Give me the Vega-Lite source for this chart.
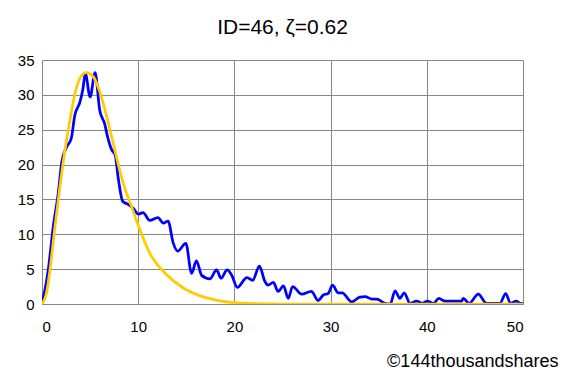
{
  "$schema": "https://vega.github.io/schema/vega-lite/v6.json",
  "width": 481,
  "height": 244,
  "autosize": "none",
  "padding": {"left": 42, "top": 60, "right": 45, "bottom": 75},
  "background": "white",
  "config": {
    "view": {"stroke": null},
    "font": "Liberation Sans"
  },
  "title": {
    "text": "ID=46, ζ=0.62",
    "fontSize": 21,
    "fontWeight": "normal",
    "color": "#000000",
    "anchor": "middle",
    "frame": "group",
    "offset": 15
  },
  "datasets": {
    "observed": [
      {"x": 0, "y": 0.3}, {"x": 0.3, "y": 2.0}, {"x": 0.65, "y": 4.9}, {"x": 1.17, "y": 11.1},
      {"x": 1.69, "y": 15.9}, {"x": 2.05, "y": 20.3}, {"x": 2.55, "y": 22.5}, {"x": 3.05, "y": 23.8},
      {"x": 3.4, "y": 27.0}, {"x": 3.95, "y": 29.0}, {"x": 4.25, "y": 30.8}, {"x": 4.5, "y": 33.1},
      {"x": 5.0, "y": 29.7}, {"x": 5.52, "y": 33.2}, {"x": 6.0, "y": 27.8}, {"x": 6.5, "y": 25.9},
      {"x": 6.85, "y": 23.8}, {"x": 7.25, "y": 22.1}, {"x": 7.6, "y": 21.4}, {"x": 7.95, "y": 17.8},
      {"x": 8.4, "y": 14.7}, {"x": 8.95, "y": 14.3}, {"x": 9.5, "y": 13.7}, {"x": 10.0, "y": 12.9},
      {"x": 10.5, "y": 13.1}, {"x": 11.2, "y": 12.0}, {"x": 12.05, "y": 12.4}, {"x": 12.6, "y": 11.6},
      {"x": 13.1, "y": 11.9}, {"x": 13.65, "y": 8.7}, {"x": 14.1, "y": 7.6}, {"x": 14.95, "y": 8.7},
      {"x": 15.55, "y": 4.4}, {"x": 16.05, "y": 6.2}, {"x": 16.6, "y": 4.1}, {"x": 17.45, "y": 3.6},
      {"x": 18.15, "y": 4.9}, {"x": 18.6, "y": 3.7}, {"x": 19.25, "y": 4.9}, {"x": 19.7, "y": 4.2},
      {"x": 20.3, "y": 2.4}, {"x": 21.3, "y": 3.8}, {"x": 21.9, "y": 3.4}, {"x": 22.6, "y": 5.45},
      {"x": 23.15, "y": 3.3}, {"x": 23.5, "y": 2.7}, {"x": 24.05, "y": 3.1}, {"x": 24.55, "y": 1.8},
      {"x": 25.1, "y": 2.6}, {"x": 25.6, "y": 0.8}, {"x": 26.05, "y": 2.5}, {"x": 27.0, "y": 1.4},
      {"x": 28.0, "y": 1.8}, {"x": 28.7, "y": 0.5}, {"x": 29.25, "y": 1.3}, {"x": 29.75, "y": 1.5},
      {"x": 30.2, "y": 2.7}, {"x": 30.8, "y": 1.6}, {"x": 31.2, "y": 1.6}, {"x": 32.2, "y": 0.3},
      {"x": 33.05, "y": 1.0}, {"x": 33.6, "y": 1.05}, {"x": 34.3, "y": 0.7}, {"x": 34.8, "y": 0.7},
      {"x": 35.65, "y": 0.1}, {"x": 36.2, "y": 0.0}, {"x": 36.7, "y": 1.9}, {"x": 37.2, "y": 0.8},
      {"x": 37.65, "y": 1.6}, {"x": 38.25, "y": 0.1}, {"x": 38.95, "y": 0.4}, {"x": 39.55, "y": 0.1},
      {"x": 40.05, "y": 0.4}, {"x": 40.7, "y": 0.1}, {"x": 41.25, "y": 0.8}, {"x": 41.9, "y": 0.4},
      {"x": 43.6, "y": 0.4}, {"x": 43.8, "y": 0.8}, {"x": 44.4, "y": 0.1}, {"x": 45.35, "y": 1.4},
      {"x": 46.2, "y": 0.1}, {"x": 47.6, "y": 0.1}, {"x": 48.2, "y": 1.5}, {"x": 48.7, "y": 0.1},
      {"x": 49.3, "y": 0.4}, {"x": 49.75, "y": 0.1}, {"x": 50, "y": 0.1}
    ],
    "fitted": [
      {"x": 0, "y": 0}, {"x": 0.14, "y": 0.3}, {"x": 0.49, "y": 1.7}, {"x": 0.83, "y": 4.9},
      {"x": 1.35, "y": 11.1}, {"x": 1.87, "y": 16.9}, {"x": 2.39, "y": 22.1}, {"x": 2.91, "y": 26.4},
      {"x": 3.43, "y": 30.2}, {"x": 3.95, "y": 32.4}, {"x": 4.57, "y": 33.2}, {"x": 5.33, "y": 32.6},
      {"x": 5.95, "y": 30.7}, {"x": 6.72, "y": 26.9}, {"x": 7.41, "y": 23.0}, {"x": 8.45, "y": 17.3},
      {"x": 9.3, "y": 14.0}, {"x": 10.0, "y": 11.3}, {"x": 11.2, "y": 7.3}, {"x": 12.96, "y": 4.2},
      {"x": 14.7, "y": 2.3}, {"x": 16.4, "y": 1.2}, {"x": 18.1, "y": 0.55}, {"x": 19.8, "y": 0.2},
      {"x": 22, "y": 0.05}, {"x": 25, "y": 0.0}, {"x": 50, "y": 0.0}
    ]
  },
  "encoding": {
    "x": {
      "field": "x", "type": "quantitative",
      "scale": {"domain": [0, 50], "nice": false},
      "axis": {
        "values": [0, 10, 20, 30, 40, 50],
        "title": "©144thousandshares",
        "titleFontSize": 18,
        "titleFontWeight": "normal",
        "titleColor": "#000000",
        "titleAlign": "right",
        "titleAnchor": null,
        "titleX": 516,
        "titleY": 57,
        "titleBaseline": "middle",
        "labelFontSize": 15,
        "labelColor": "#000000",
        "labelPadding": 15,
        "ticks": false,
        "grid": true,
        "gridColor": "#878787",
        "gridWidth": 1,
        "domainColor": "#878787",
        "domainWidth": 1
      }
    },
    "y": {
      "field": "y", "type": "quantitative",
      "scale": {"domain": [0, 35], "nice": false},
      "axis": {
        "values": [0, 5, 10, 15, 20, 25, 30, 35],
        "title": null,
        "labelFontSize": 15,
        "labelColor": "#000000",
        "labelPadding": 8,
        "ticks": false,
        "grid": true,
        "gridColor": "#878787",
        "gridWidth": 1,
        "domain": false
      }
    }
  },
  "layer": [
    {
      "data": {"name": "observed"},
      "mark": {"type": "line", "color": "#0000FF", "strokeWidth": 2.75, "interpolate": "monotone", "clip": true}
    },
    {
      "data": {"name": "fitted"},
      "mark": {"type": "line", "color": "#FFCC00", "strokeWidth": 2.75, "interpolate": "monotone", "clip": true}
    }
  ]
}
